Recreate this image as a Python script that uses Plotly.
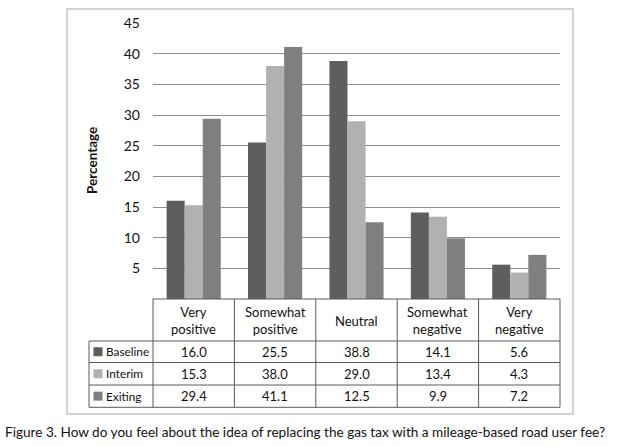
import plotly.graph_objects as go

categories = ["Very positive", "Somewhat positive", "Neutral", "Somewhat negative", "Very negative"]
header_labels = ["Very<br>positive", "Somewhat<br>positive", "Neutral", "Somewhat<br>negative", "Very<br>negative"]
series_names = ["Baseline", "Interim", "Exiting"]
baseline = [16.0, 25.5, 38.8, 14.1, 5.6]
interim = [15.3, 38.0, 29.0, 13.4, 4.3]
exiting = [29.4, 41.1, 12.5, 9.9, 7.2]
y_ticks = [5, 10, 15, 20, 25, 30, 35, 40, 45]
caption = "Figure 3. How do you feel about the idea of replacing the gas tax with a mileage-based road user fee?"
y_title = "Percentage"

series_values = [baseline, interim, exiting]
colors = ["#5e5e5e", "#b1b1b1", "#7f7f7f"]

W, H = 618, 447
L, R, T, B = 153, 560, 23, 299
FONT = "Lato, Carlito, Calibri, sans-serif"
TS = 11.8


def px(xp):
    return (xp - L) / (R - L)


def py(yp):
    return (B - yp) / (B - T)


fig = go.Figure()
for name, vals, c in zip(series_names, series_values, colors):
    fig.add_trace(go.Bar(x=categories, y=vals, name=name, marker=dict(color=c, line=dict(width=0)),
                         showlegend=False, hoverinfo="skip"))

shapes = []
annotations = []
line_c = "#5a5a5a"

# outer border
shapes.append(dict(type="rect", xref="paper", yref="paper", x0=px(67), x1=px(573), y0=py(9), y1=py(414),
                   line=dict(color="#c4c4c4", width=1.5), layer="below"))

# table geometry (pixels)
row_edges = [299, 341, 362.5, 385, 407.3]
col_left_legend = 89
shapes.append(dict(type="line", xref="paper", yref="paper", x0=0, x1=1, y0=py(row_edges[0]), y1=py(row_edges[0]),
                   line=dict(color=line_c, width=1)))
for ye in row_edges[1:]:
    shapes.append(dict(type="line", xref="paper", yref="paper", x0=px(col_left_legend), x1=1, y0=py(ye), y1=py(ye),
                       line=dict(color=line_c, width=1)))
n = len(categories)
for i in range(n + 1):
    shapes.append(dict(type="line", xref="paper", yref="paper", x0=i / n, x1=i / n, y0=py(row_edges[0]),
                       y1=py(row_edges[-1]), line=dict(color=line_c, width=1)))
shapes.append(dict(type="line", xref="paper", yref="paper", x0=px(col_left_legend), x1=px(col_left_legend),
                   y0=py(row_edges[1]), y1=py(row_edges[-1]), line=dict(color=line_c, width=1)))

# header labels
for i, lab in enumerate(header_labels):
    annotations.append(dict(x=categories[i], xref="x", y=py((row_edges[0] + row_edges[1]) / 2 + 0.5), yref="paper",
                            text=lab, showarrow=False, font=dict(family=FONT, size=13, color="#111"),
                            xanchor="center", yanchor="middle"))

# data rows
for r, (name, vals, c) in enumerate(zip(series_names, series_values, colors)):
    yc = (row_edges[r + 1] + row_edges[r + 2]) / 2
    shapes.append(dict(type="rect", xref="paper", yref="paper", x0=px(93.5), x1=px(102.5), y0=py(yc - 4.5),
                       y1=py(yc + 4.5), fillcolor=c, line=dict(width=0)))
    annotations.append(dict(x=px(104), xref="paper", y=py(yc), yref="paper", text=name, showarrow=False,
                            font=dict(family=FONT, size=TS, color="#111"), xanchor="left", yanchor="middle"))
    for i, v in enumerate(vals):
        annotations.append(dict(x=categories[i], xref="x", y=py(yc), yref="paper", text=f"{v:.1f}",
                                showarrow=False, font=dict(family=FONT, size=13, color="#111"),
                                xanchor="center", yanchor="middle"))

# y axis title
annotations.append(dict(x=px(92), xref="paper", y=py(161), yref="paper", text=f"<b>{y_title}</b>",
                        textangle=-90, showarrow=False, font=dict(family=FONT, size=13.5, color="#111"),
                        xanchor="center", yanchor="middle"))

# caption
annotations.append(dict(x=px(3), xref="paper", y=py(432), yref="paper", text=caption, showarrow=False,
                        font=dict(family=FONT, size=13.6, color="#111"), xanchor="left", yanchor="middle"))

fig.update_layout(
    width=W, height=H,
    margin=dict(l=L, r=W - R, t=T, b=H - B, pad=0),
    paper_bgcolor="white", plot_bgcolor="white",
    barmode="group", bargap=0.335, bargroupgap=0,
    font=dict(family=FONT, size=13, color="#111"),
    xaxis=dict(showticklabels=False, showgrid=False, zeroline=False, showline=False, ticks=""),
    yaxis=dict(range=[0, 45], tickvals=y_ticks, showgrid=True, gridcolor="#8c8c8c", gridwidth=1,
               zeroline=False, showline=False, ticks="", ticklabelstandoff=12,
               tickfont=dict(family=FONT, size=14, color="#111")),
    shapes=shapes, annotations=annotations,
)

fig.write_html("out.html", config={"displayModeBar": False},
               post_script="document.body.style.margin='0px';document.body.style.padding='0px';")
